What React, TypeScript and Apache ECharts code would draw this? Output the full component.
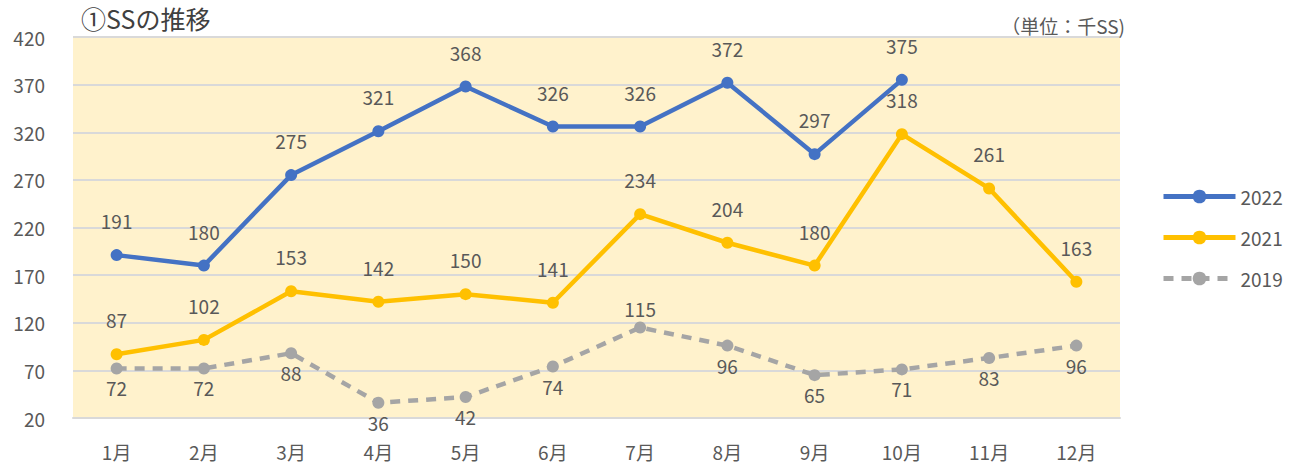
import React, { useEffect, useRef } from "react";
import * as echarts from "echarts";

const months = ["1月", "2月", "3月", "4月", "5月", "6月", "7月", "8月", "9月", "10月", "11月", "12月"];
const s2022 = [191, 180, 275, 321, 368, 326, 326, 372, 297, 375, null, null];
const s2021 = [87, 102, 153, 142, 150, 141, 234, 204, 180, 318, 261, 163];
const s2019 = [72, 72, 88, 36, 42, 74, 115, 96, 65, 71, 83, 96];
const labelPos2019 = ["bottom", "bottom", "bottom", "bottom", "bottom", "bottom", "top", "bottom", "bottom", "bottom", "bottom", "bottom"];

const FONT = "'Noto Sans CJK JP', 'Noto Sans', sans-serif";
const TXT = "#595959";

export default function App() {
  const ref = useRef<HTMLDivElement>(null);
  useEffect(() => {
    const chart = echarts.init(ref.current!, null, { renderer: "svg" });
    const label = { show: true, position: "top", distance: 19, color: TXT, fontSize: 19, fontFamily: FONT };
    chart.setOption({
      animation: false,
      textStyle: { fontFamily: FONT },
      title: [
        { text: "①SSの推移", left: 76, top: 0, textStyle: { fontSize: 25, fontWeight: "normal", color: "#404040", fontFamily: FONT } },
        { text: "（単位：千SS)", right: 166, top: 11, textStyle: { fontSize: 19, fontWeight: "normal", color: TXT, fontFamily: FONT } },
      ],
      grid: { left: 73, right: 176, top: 37, bottom: 49, show: true, backgroundColor: "#FFF2CC", borderWidth: 0 },
      legend: {
        orient: "vertical",
        left: 1156,
        top: 182,
        itemGap: 22,
        itemWidth: 72,
        itemHeight: 17,
        textStyle: { color: TXT, fontSize: 19, fontFamily: FONT },
        lineStyle: { width: 5 },
        data: ["2022", "2021", "2019"],
      },
      xAxis: {
        type: "category",
        data: months,
        boundaryGap: true,
        axisLine: { show: true, lineStyle: { color: "#D9D9D9", width: 2 } },
        axisTick: { show: false },
        axisLabel: { color: TXT, fontSize: 19, margin: 24, fontFamily: FONT },
      },
      yAxis: {
        type: "value",
        min: 20,
        max: 420,
        interval: 50,
        axisLine: { show: false },
        axisTick: { show: false },
        axisLabel: { color: TXT, fontSize: 19, margin: 28, fontFamily: FONT },
        splitLine: { lineStyle: { color: "#D9D9D9", width: 2 } },
      },
      series: [
        {
          name: "2022",
          type: "line",
          data: s2022,
          symbol: "circle",
          symbolSize: 12,
          lineStyle: { color: "#4472C4", width: 4.5 },
          itemStyle: { color: "#4472C4" },
          label,
        },
        {
          name: "2021",
          type: "line",
          data: s2021,
          symbol: "circle",
          symbolSize: 12,
          lineStyle: { color: "#FFC000", width: 4.5 },
          itemStyle: { color: "#FFC000" },
          label,
        },
        {
          name: "2019",
          type: "line",
          data: s2019.map((v, i) => ({ value: v, label: { position: labelPos2019[i] } })),
          symbol: "circle",
          symbolSize: 12,
          lineStyle: { color: "#A5A5A5", width: 4.5, type: [10, 8] },
          itemStyle: { color: "#A5A5A5" },
          label: { ...label, distance: 4 },
        },
      ],
    });
    return () => chart.dispose();
  }, []);
  return <div ref={ref} style={{ position: "absolute", left: 0, top: 0, width: 1296, height: 467 }} />;
}
